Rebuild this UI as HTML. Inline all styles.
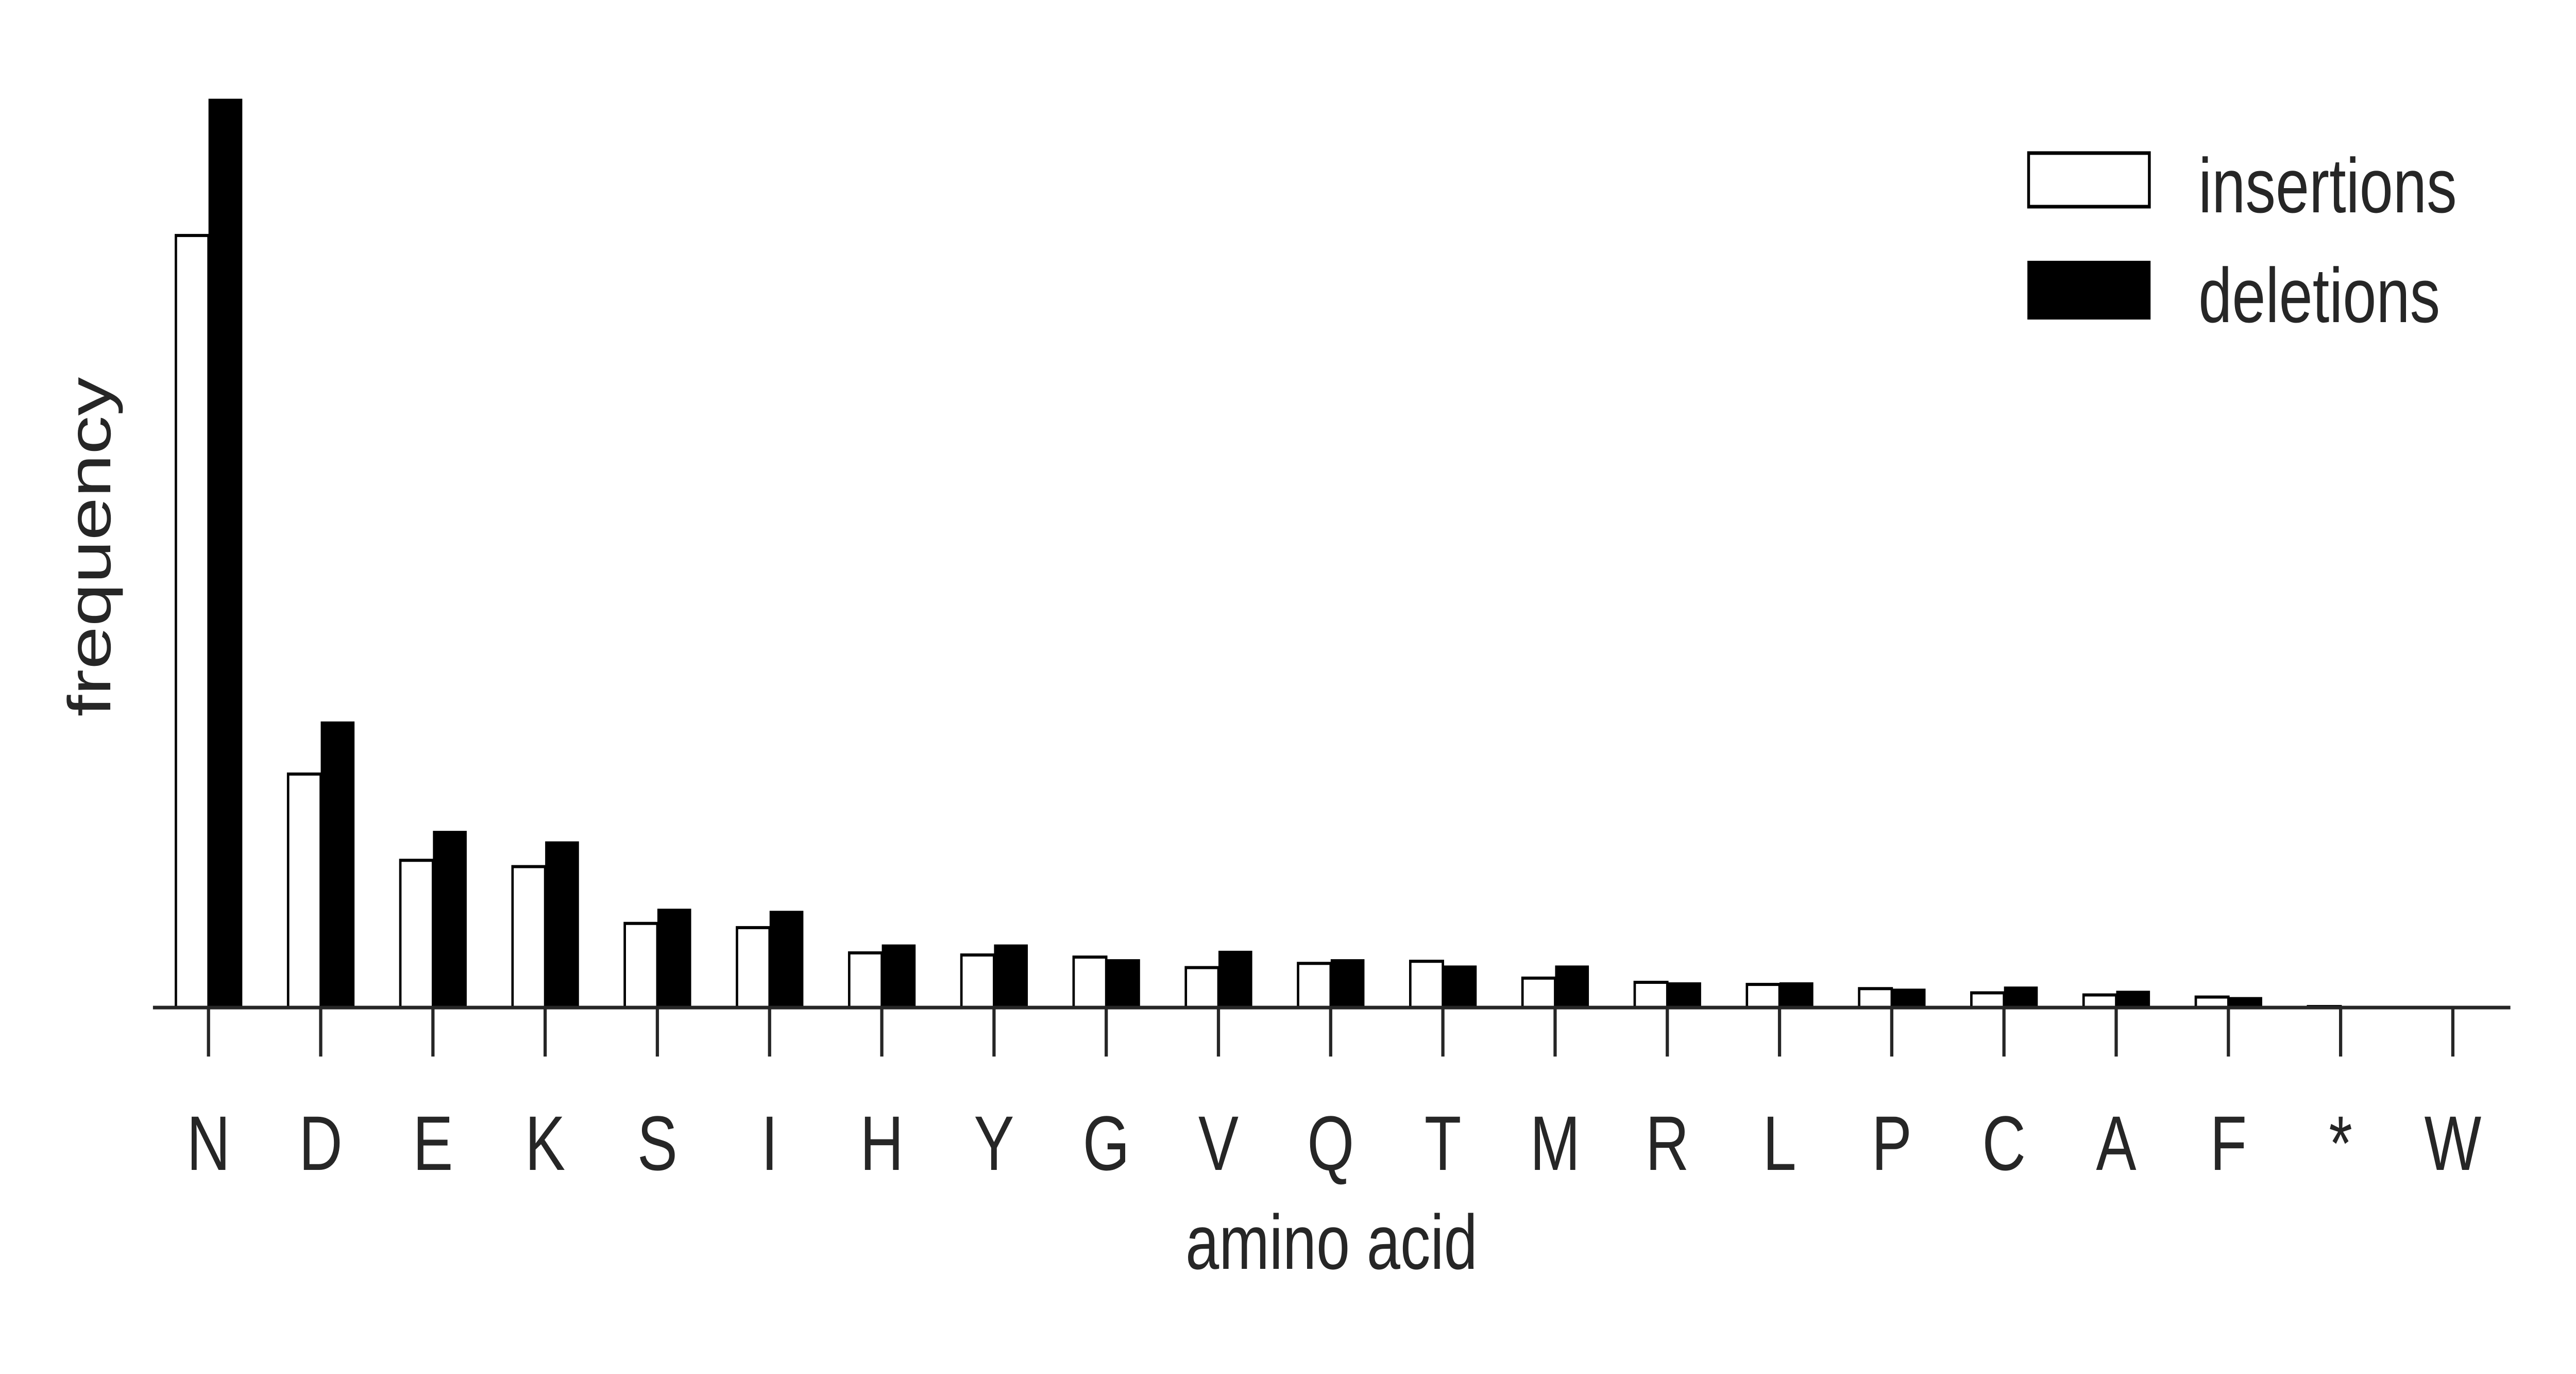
<!DOCTYPE html>
<html><head><meta charset="utf-8"><style>
html,body{margin:0;padding:0;background:#fff;width:100%;height:100%;overflow:hidden;}
svg{display:block;width:100vw;height:100vh;}
text{font-family:"Liberation Sans",Arial,sans-serif;fill:#262626;}
</style></head><body>
<svg id="chart" viewBox="0 0 6400 2666" preserveAspectRatio="none" xmlns="http://www.w3.org/2000/svg">
<rect x="0" y="0" width="6400" height="2666" fill="#fff"/>
<g id="bars"></g>
<line x1="380" y1="1955" x2="6237" y2="1955" stroke="#262626" stroke-width="7"/>
<g id="ticks"></g>
<text x="3308" y="2462" font-size="150" text-anchor="middle">amino acid</text>
<text x="0" y="0" font-size="150" text-anchor="middle" transform="translate(274,1061) rotate(-90)">frequency</text>
<g>
<g>
<rect x="5040" y="297" width="300" height="104" fill="#fff" stroke="#000" stroke-width="7"/>
<text x="5462" y="412" font-size="150">insertions</text>
</g>
<g>
<rect x="5037" y="506" width="306" height="114" fill="#000"/>
<text x="5462" y="625" font-size="150">deletions</text>
</g>
</g>
</svg>
<script>
const categories = ["N","D","E","K","S","I","H","Y","G","V","Q","T","M","R","L","P","C","A","F","*","W"];
const insertions = [367,111,70,67,40,38,26,25,24,19,21,22,14,12,11,9,7,6,5,0.5,0];
const deletions = [432,136,84,79,47,46,30,30,23,27,23,20,20,12,12,9,10,8,5,0.5,0];

const NS = "http://www.w3.org/2000/svg";
const x0 = 518, step = (6094 - 518) / 20, baseY = 1955, barW = 84;
const yScale = v => baseY - v * 4.082;
const xScale = i => x0 + i * step;
const barsG = document.getElementById('bars');
const ticksG = document.getElementById('ticks');
categories.forEach((c, i) => {
  const cx = xScale(i);
  const yi = yScale(insertions[i]);
  const r1 = document.createElementNS(NS, 'rect');
  r1.setAttribute('x', cx - barW + 3);
  r1.setAttribute('y', yi);
  r1.setAttribute('width', barW - 3);
  r1.setAttribute('height', Math.max(0, baseY - yi));
  r1.setAttribute('fill', '#fff');
  r1.setAttribute('stroke', '#000');
  r1.setAttribute('stroke-width', '6');
  
  
  barsG.appendChild(r1);
  const yd = yScale(deletions[i]);
  const r2 = document.createElementNS(NS, 'rect');
  r2.setAttribute('x', cx);
  r2.setAttribute('y', yd);
  r2.setAttribute('width', barW);
  r2.setAttribute('height', Math.max(0, baseY - yd));
  r2.setAttribute('fill', '#000');
  
  
  barsG.appendChild(r2);
  const t = document.createElementNS(NS, 'line');
  t.setAttribute('x1', cx); t.setAttribute('x2', cx);
  t.setAttribute('y1', baseY); t.setAttribute('y2', 2050);
  t.setAttribute('stroke', '#262626'); t.setAttribute('stroke-width', '8');
  
  
  ticksG.appendChild(t);
  const lb = document.createElementNS(NS, 'text');
  lb.setAttribute('x', cx); lb.setAttribute('y', 2270);
  lb.setAttribute('font-size', '150');
  lb.setAttribute('text-anchor', 'middle');
  lb.textContent = c;
  
  
  ticksG.appendChild(lb);
});
</script>
</body></html>
